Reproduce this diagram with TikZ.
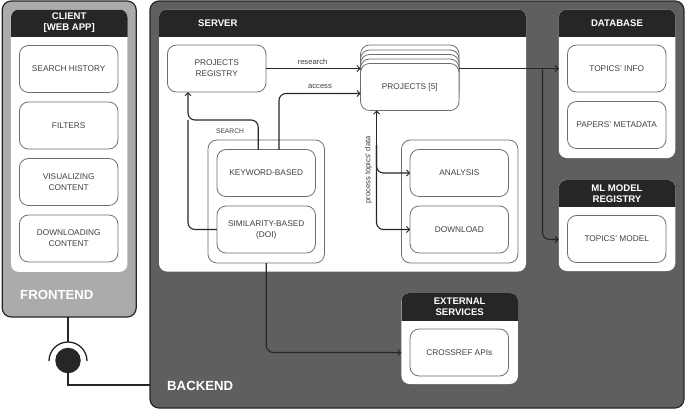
\documentclass[tikz,border=0pt]{standalone}
\usepackage{fontspec}
\setmainfont{Liberation Sans}
\usetikzlibrary{arrows.meta,calc}
\definecolor{ink}{HTML}{262626}
\definecolor{frontfill}{HTML}{ABABAB}
\definecolor{backfill}{HTML}{5F5F5F}
\definecolor{edgegrey}{HTML}{6E6E6E}
\definecolor{txt}{HTML}{404040}
\tikzset{
  x=1pt,y=-1pt,
  itembox/.style={draw=edgegrey,fill=white,line width=.8pt,rounded corners=9pt,minimum width=98.5pt,minimum height=47pt,align=center,inner sep=0pt,outer sep=0pt,text=txt,font=\fontsize{8.3}{11}\selectfont},
  groupbox/.style={draw=edgegrey,fill=white,line width=.8pt,rounded corners=9pt,minimum width=116.5pt,minimum height=123pt,inner sep=0pt,outer sep=0pt},
  card/.style={fill=white,rounded corners=8pt,inner sep=0pt,outer sep=0pt},
  panel/.style={draw=ink,line width=1.2pt,rounded corners=9pt,inner sep=0pt,outer sep=0pt},
  headfill/.style={fill=ink,rounded corners=8pt},
  headtext/.style={text=white,font=\fontsize{9.6}{11}\selectfont\bfseries,align=center,inner sep=0pt},
  paneltext/.style={text=white,font=\fontsize{13.2}{15}\selectfont\bfseries,anchor=west,inner sep=0pt},
  conn/.style={draw=ink,line width=1.1pt,rounded corners=7pt},
  tip/.style={-{Straight Barb[length=3pt,width=6pt,line width=.9pt]}},
  lab/.style={text=txt,font=\fontsize{7.6}{9}\selectfont,inner sep=0pt},
}
\newcommand{\headband}[4]{% x1 y1 x2 y2
  \begin{scope}
    \clip (#1,#2) rectangle (#3,#4);
    \fill[headfill] (#1,#2) rectangle (#3,#4+12);
  \end{scope}}
\begin{document}
\begin{tikzpicture}
\useasboundingbox (0,0) rectangle (685,410);
% panels
\node[panel,fill=frontfill,minimum width=134pt,minimum height=316pt] (front) at (69.2,159) {};
\node[panel,fill=backfill,minimum width=534pt,minimum height=407pt] (back) at (417,204.5) {};
% lollipop
\coordinate (joint) at (68,360.5);
\coordinate (jointend) at (68,385);
\draw[draw=ink,line width=1.3pt] (front.south -| joint) -- (68,342);
\draw[draw=ink,line width=1.3pt] (49,361) arc[start angle=180,end angle=360,radius=19];
\node[circle,fill=ink,minimum size=25.5pt,inner sep=0pt,outer sep=0pt] (ball) at (joint) {};
\draw[draw=ink,line width=1.3pt] (ball.south) -- (jointend) -- (jointend -| back.west);
% cards
\node[card,minimum width=116.5pt,minimum height=262.5pt] (client) at (69.2,140.7) {};
\headband{11}{9.5}{127.5}{36}
\node[headtext] (clienthead) at (69.2,23) {CLIENT\\{[}WEB APP{]}};
\node[card,minimum width=367pt,minimum height=262pt] (server) at (342.5,140.5) {};
\headband{159}{9.5}{526}{36}
\node[headtext,anchor=west] (serverhead) at (198,23) {SERVER};
\node[card,minimum width=116.5pt,minimum height=148.5pt] (db) at (617,83.8) {};
\headband{558.8}{9.5}{675.3}{36}
\node[headtext] (dbhead) at (617,23) {DATABASE};
\node[card,minimum width=116.5pt,minimum height=91pt] (ml) at (617,225.5) {};
\headband{558.8}{180}{675.3}{206.5}
\node[headtext] (mlhead) at (617,193.3) {ML MODEL\\REGISTRY};
\node[card,minimum width=116.5pt,minimum height=91pt] (ext) at (459.7,338.5) {};
\headband{401.5}{293}{518}{320}
\node[headtext] (exthead) at (459.7,306.5) {EXTERNAL\\SERVICES};
% client items
\node[itembox] (history) at (68.7,69) {SEARCH HISTORY};
\node[itembox] (filters) at (68.7,125.5) {FILTERS};
\node[itembox] (visual) at (68.7,182) {VISUALIZING\\CONTENT};
\node[itembox] (down) at (68.7,238.5) {DOWNLOADING\\CONTENT};
% server items
\node[itembox] (registry) at (216.7,68.5) {PROJECTS\\REGISTRY};
\foreach \yy/\nm in {68.5/a,73.5/b,78/c,82.5/d}
  \node[itembox] (stack\nm) at (409.8,\yy) {};
\node[itembox] (projects) at (409.8,87) {PROJECTS [5]};
\node[groupbox] (gsearch) at (266.2,201.5) {};
\node[groupbox] (gproc) at (459.7,201.5) {};
\node[itembox] (keyword) at (266.2,173) {KEYWORD-BASED};
\node[itembox] (similar) at (266.2,229.5) {SIMILARITY-BASED\\(DOI)};
\node[itembox] (analysis) at (459.3,173) {ANALYSIS};
\node[itembox] (download) at (459.3,229.5) {DOWNLOAD};
% stores
\node[itembox] (info) at (616.7,68.5) {TOPICS' INFO};
\node[itembox] (meta) at (616.7,125) {PAPERS' METADATA};
\node[itembox] (tmodel) at (616.7,239) {TOPICS' MODEL};
\node[itembox] (cross) at (459.3,352.5) {CROSSREF APIs};
% connectors
\coordinate (regin) at (188,92);
\coordinate (branch) at (542.5,68.5);
\coordinate (procjoin) at (376.5,145);
\draw[conn,tip,rounded corners=0pt] (registry.east) -- (registry.east -| stacka.west);
\draw[conn,tip] ([xshift=12.8pt]keyword.north) -- ++(0,-56) -- (projects.west |- 0,93.5);
\draw[conn,tip] ([xshift=-8pt]keyword.north) -- ++(0,-29.5) -- (188,120) -- (regin);
\draw[conn] (similar.west) -- (188,229.5) -- (188,120);
\draw[conn,tip,rounded corners=0pt] (procjoin) -- (376.5,110.5);
\draw[conn,tip] (procjoin) -- (376.5,173) -- (analysis.west);
\draw[conn,tip] (procjoin) -- (376.5,229.5) -- (download.west);
\draw[conn,tip,rounded corners=0pt] (projects.east |- 0,68.5) -- (db.west |- 0,68.5);
\draw[conn,tip] (branch) -- (542.5,239.5) -- (ml.west |- 0,239.5);
\draw[conn,tip] (gsearch.south) -- (gsearch.south |- 0,352.5) -- (ext.west |- 0,352.5);
% labels
\node[lab] (lresearch) at (312.5,61.5) {research};
\node[lab] (laccess) at (320,86.5) {access};
\node[lab,font=\fontsize{6.7}{9}\selectfont] (lsearch) at (230,131) {SEARCH};
\node[lab,rotate=90] (lprocess) at (368.5,170) {process topics' data};
\node[paneltext] (lfront) at (20,295) {FRONTEND};
\node[paneltext] (lback) at (167,385.5) {BACKEND};
\end{tikzpicture}
\end{document}
